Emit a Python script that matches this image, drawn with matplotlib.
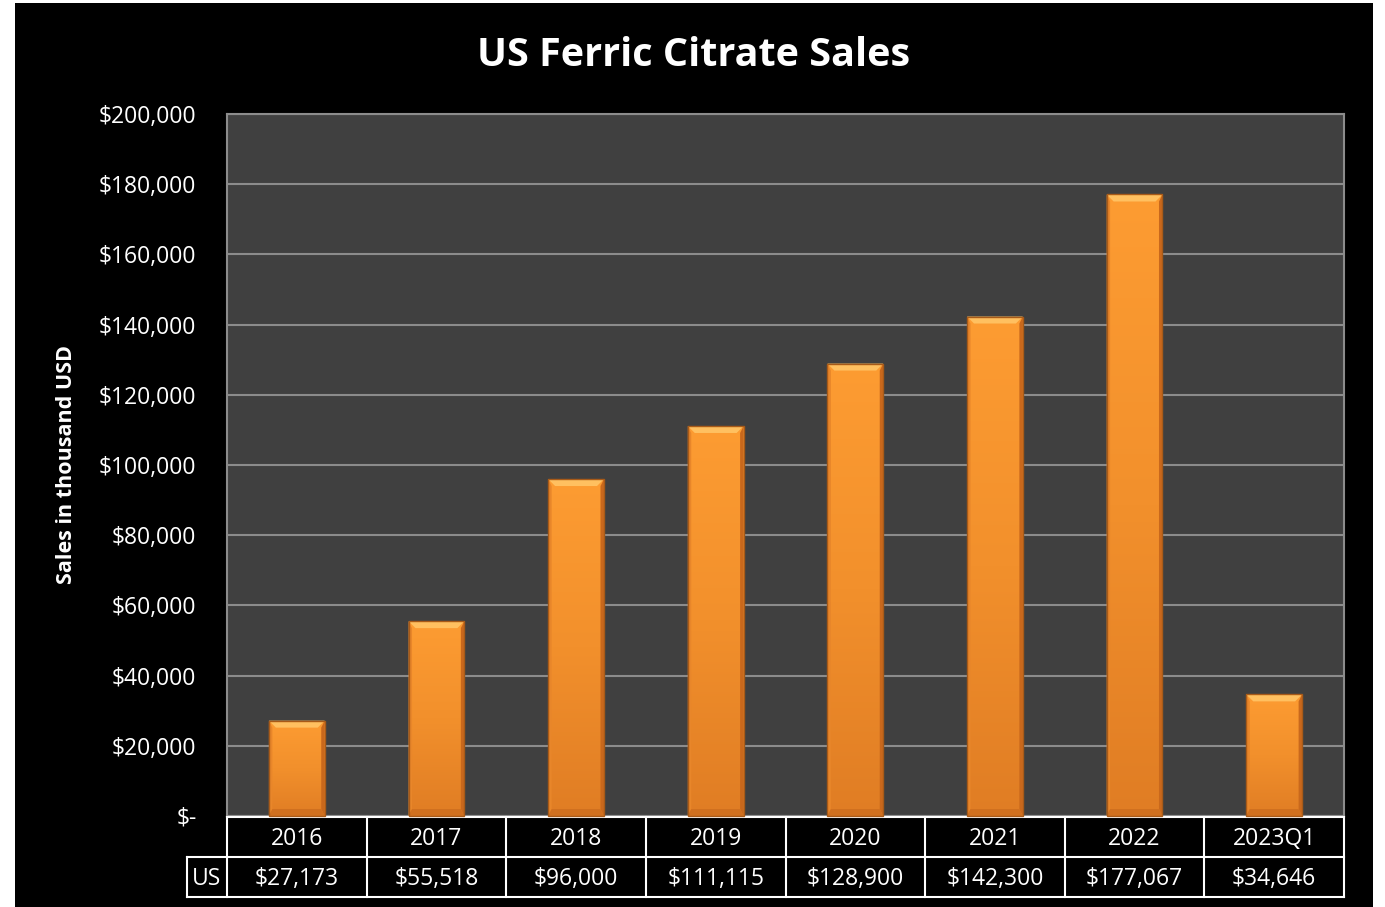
import numpy as np
import matplotlib
matplotlib.use('Agg')
import matplotlib.pyplot as plt
from matplotlib.patches import Rectangle, Polygon
from matplotlib.transforms import IdentityTransform
from matplotlib.colors import LinearSegmentedColormap

years = ['2016', '2017', '2018', '2019', '2020', '2021', '2022', '2023Q1']
sales = [27173, 55518, 96000, 111115, 128900, 142300, 177067, 34646]
series_name = 'US'
yticks = [0, 20000, 40000, 60000, 80000, 100000, 120000, 140000, 160000, 180000, 200000]

plt.rcParams['font.family'] = ['Open Sans', 'DejaVu Sans']

def money(v):
    return '$-' if v == 0 else '${:,.0f}'.format(v)

W, H = 1385, 907
fig = plt.figure(figsize=(W / 100, H / 100), dpi=100, facecolor='white')
# black chart area
fig.patches.append(Rectangle((15 / W, 0), (1373 - 15) / W, 904 / H,
                             transform=fig.transFigure, facecolor='black', edgecolor='none', zorder=-10))

ax = fig.add_axes([227 / W, (907 - 816) / H, (1344 - 227) / W, (816 - 114) / H])
ax.set_facecolor('#404040')
x = np.arange(len(years))
ax.set_xlim(-0.5, len(years) - 0.5)
ax.set_ylim(0, 200000)
ax.set_yticks(yticks)
ax.set_yticklabels([money(v) for v in yticks], color='white', fontsize=16.5)
ax.set_xticks([])
ax.tick_params(axis='y', length=0, pad=22)
ax.yaxis.grid(True, color='#8C8C8C', linewidth=1.5)
ax.set_axisbelow(True)
for s in ax.spines.values():
    s.set_color('#8C8C8C')
    s.set_linewidth(1.5)
ax.set_ylabel('Sales in thousand USD', color='white', fontsize=15.5, fontweight='bold')
ax.yaxis.set_label_coords((77 - 227) / (1344 - 227), 0.5)

bw = 0.4
bars = ax.bar(x, sales, width=bw, color='#F39130', edgecolor='none', zorder=3)

# vertical gradient inside each bar
grad = np.linspace(0, 1, 256).reshape(-1, 1)
cmap = LinearSegmentedColormap.from_list('orng', ['#E07D24', '#F2902C', '#FD9C32'])
for b in bars:
    im = ax.imshow(grad, cmap=cmap, origin='lower', aspect='auto', zorder=3,
                   extent=[b.get_x(), b.get_x() + b.get_width(), 0, b.get_height()])
    im.set_clip_path(b)

# bevel edges, drawn in pixels on top of the bars
fig.canvas.draw()
bev = 7
for b in bars:
    (x0, y0) = ax.transData.transform((b.get_x(), 0))
    (x1, y1) = ax.transData.transform((b.get_x() + b.get_width(), b.get_height()))
    top = Polygon([(x0, y1), (x1, y1), (x1 - bev, y1 - bev), (x0 + bev, y1 - bev)],
                  closed=True, transform=IdentityTransform(), facecolor='#FFC060', edgecolor='none', zorder=4)
    left = Polygon([(x0, y0), (x0, y1), (x0 + bev * 0.5, y1 - bev), (x0 + bev * 0.5, y0 + bev)],
                   closed=True, transform=IdentityTransform(), facecolor='#E8862A', edgecolor='none', zorder=4)
    right = Polygon([(x1, y0), (x1, y1), (x1 - bev * 0.5, y1 - bev), (x1 - bev * 0.5, y0 + bev)],
                    closed=True, transform=IdentityTransform(), facecolor='#C9681C', edgecolor='none', zorder=4)
    bottom = Polygon([(x0, y0), (x1, y0), (x1 - bev * 0.5, y0 + bev), (x0 + bev * 0.5, y0 + bev)],
                     closed=True, transform=IdentityTransform(), facecolor='#D0701F', edgecolor='none', zorder=4)
    outline = Rectangle((x0, y0), x1 - x0, y1 - y0, transform=IdentityTransform(),
                        facecolor='none', edgecolor='#A85A18', linewidth=1, zorder=5)
    for p in (top, left, right, bottom, outline):
        fig.patches.append(p)

# data table below plot
tax = fig.add_axes([227 / W, (907 - 897) / H, (1344 - 227) / W, 80 / H])
tax.set_xlim(-0.5, len(years) - 0.5)
tax.set_ylim(0, 2)
tax.axis('off')
lc = 'white'
lw = 1.5
cw = 40 / (1344 - 227) * len(years)
tax.plot([-0.5, len(years) - 0.5], [2, 2], color=lc, lw=lw, clip_on=False)
tax.plot([-0.5 - cw, len(years) - 0.5], [1, 1], color=lc, lw=lw, clip_on=False)
tax.plot([-0.5 - cw, len(years) - 0.5], [0, 0], color=lc, lw=lw, clip_on=False)
tax.plot([-0.5 - cw, -0.5 - cw], [0, 1], color=lc, lw=lw, clip_on=False)
for i in range(len(years) + 1):
    tax.plot([i - 0.5, i - 0.5], [0, 2], color=lc, lw=lw, clip_on=False)
for i, (yr, v) in enumerate(zip(years, sales)):
    tax.text(i, 1.45, yr, color='white', fontsize=16.5, ha='center', va='center')
    tax.text(i, 0.45, money(v), color='white', fontsize=16.5, ha='center', va='center')
tax.text(-0.5 - cw / 2, 0.45, series_name, color='white', fontsize=16.5, ha='center', va='center')

fig.text(694 / W, (907 - 55) / H, 'US Ferric Citrate Sales', color='white', fontsize=28.5,
         fontweight='bold', ha='center', va='center')

fig.savefig('out.png', dpi=100, facecolor=fig.get_facecolor())
